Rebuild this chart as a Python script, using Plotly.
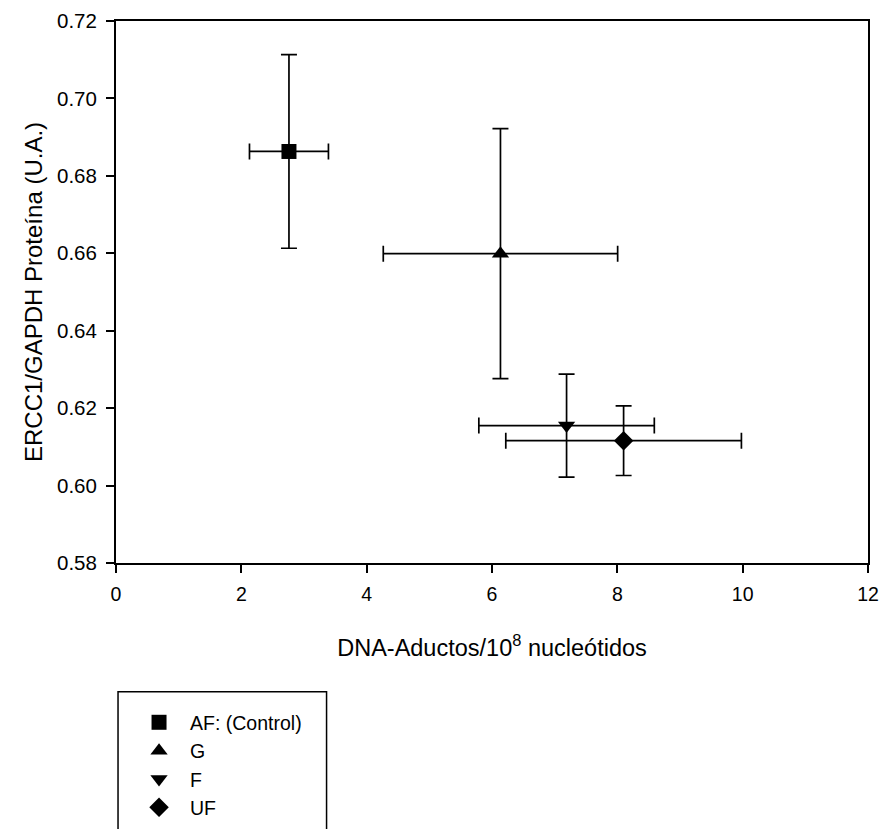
import plotly.graph_objects as go

groups = ["AF: (Control)", "G", "F", "UF"]
symbols = ["square", "triangle-up", "triangle-down", "diamond"]
adducts = [2.76, 6.135, 7.19, 8.10]
adducts_err = [0.63, 1.87, 1.40, 1.88]
ercc1 = [0.6863, 0.6599, 0.6155, 0.6116]
ercc1_err = [0.025, 0.0323, 0.0133, 0.009]

x_ticks = [0, 2, 4, 6, 8, 10, 12]
y_ticks = [0.58, 0.60, 0.62, 0.64, 0.66, 0.68, 0.70, 0.72]

FONT = "Liberation Sans, Arial, sans-serif"

fig = go.Figure()
for i, g in enumerate(groups):
    fig.add_trace(go.Scatter(
        x=[adducts[i]], y=[ercc1[i]], mode="markers", name=g,
        legendgroup=g,
        marker=dict(symbol=symbols[i], size=15, color="black"),
        error_x=dict(type="data", array=[adducts_err[i]], color="black", thickness=1.7, width=8),
        error_y=dict(type="data", array=[ercc1_err[i]], color="black", thickness=1.7, width=8),
    ))

axis_common = dict(showline=True, linecolor="black", linewidth=2, mirror=True,
                   ticks="outside", ticklen=8, tickwidth=2, tickcolor="black",
                   showgrid=False, zeroline=False, ticklabelstandoff=5)

fig.update_xaxes(range=[0, 12], tickvals=x_ticks,
                 tickfont=dict(family=FONT, size=19.5, color="black"),
                 title=dict(text="DNA-Aductos/10<sup>8</sup> nucleótidos",
                            font=dict(family=FONT, size=23.5, color="black"), standoff=35),
                 **axis_common)
fig.update_yaxes(range=[0.58, 0.72], tickvals=y_ticks, tickformat=".2f",
                 tickfont=dict(family=FONT, size=20.5, color="black"),
                 title=dict(text="ERCC1/GAPDH Proteína (U.A.)",
                            font=dict(family=FONT, size=24, color="black"), standoff=8),
                 **axis_common)

fig.add_shape(type="rect", xref="paper", yref="paper",
              x0=0.0027, x1=0.28, y0=-0.2375, y1=-0.6,
              line=dict(color="black", width=1.5))

fig.update_layout(
    width=883, height=829,
    margin=dict(l=116, r=15, t=21, b=266, autoexpand=False),
    plot_bgcolor="white", paper_bgcolor="white",
    showlegend=True,
    legend=dict(x=0.016, y=-0.2585, xanchor="left", yanchor="top",
                font=dict(family=FONT, size=19.5, color="black"),
                tracegroupgap=0, traceorder="grouped", itemwidth=52,
                bgcolor="rgba(0,0,0,0)", borderwidth=0),
)

fig.write_html("out.html")
